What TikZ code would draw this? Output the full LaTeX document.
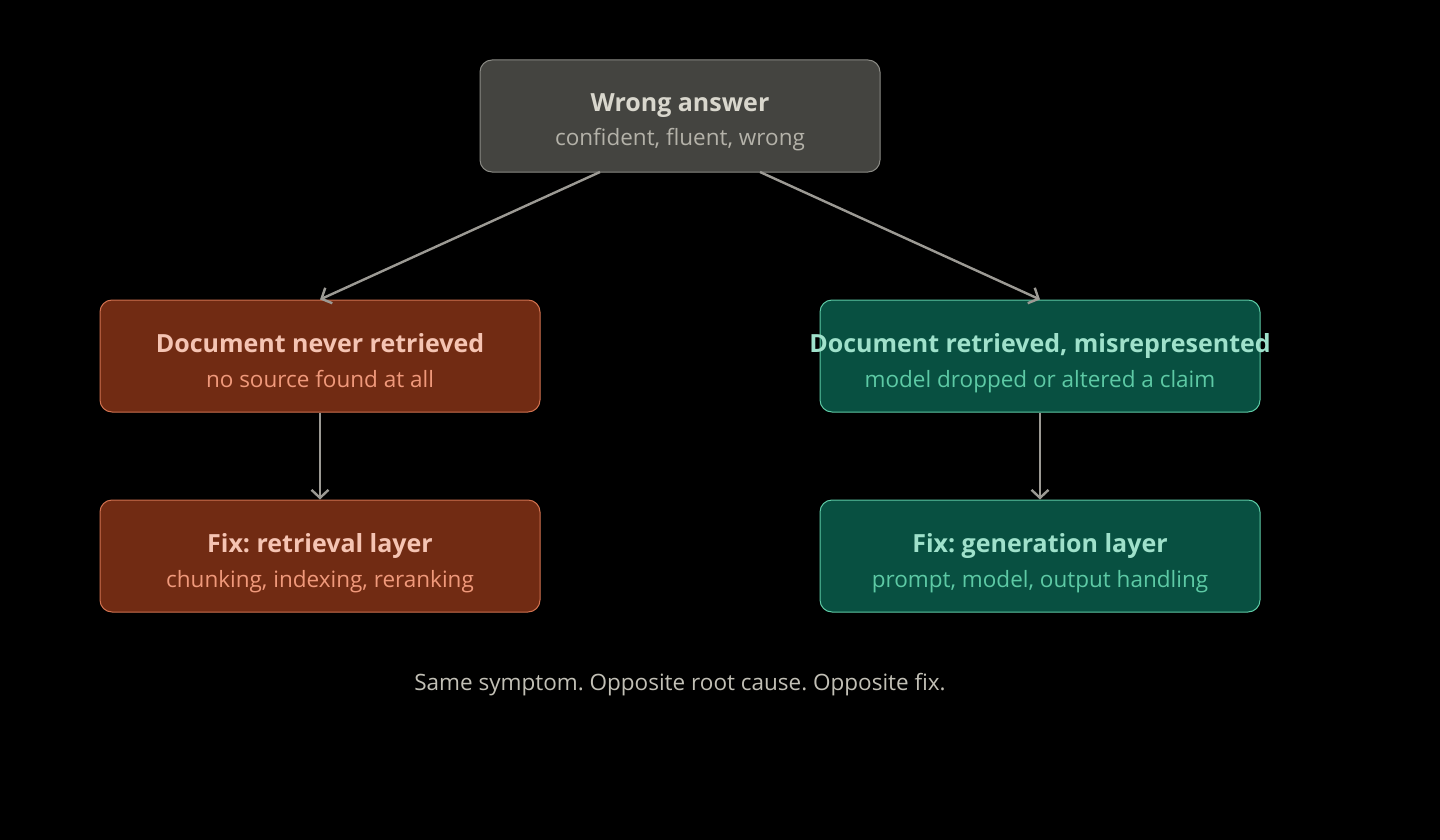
\documentclass[tikz,border=0pt]{standalone}
\usepackage{fontspec}
\setmainfont{Open Sans}
\usetikzlibrary{arrows.meta}
\definecolor{bg}{HTML}{000000}
\definecolor{gfill}{HTML}{444440}
\definecolor{gline}{HTML}{8A8A84}
\definecolor{gtitle}{HTML}{D9D7CD}
\definecolor{gsub}{HTML}{B4B2A9}
\definecolor{rfill}{HTML}{712B13}
\definecolor{rline}{HTML}{D0714F}
\definecolor{rtitle}{HTML}{F5C4B3}
\definecolor{rsub}{HTML}{F0997B}
\definecolor{tfill}{HTML}{085041}
\definecolor{tline}{HTML}{5DCAA5}
\definecolor{ttitle}{HTML}{9FE1CB}
\definecolor{tsub}{HTML}{5DCAA5}
\definecolor{arr}{HTML}{9C9A94}
\definecolor{foot}{HTML}{C2C0B6}
\tikzset{
  box/.style={draw, line width=1pt, rounded corners=12pt, minimum height=112pt, inner sep=0pt},
  ttl/.style={font=\fontsize{25}{30}\selectfont\bfseries, inner sep=0pt, anchor=base},
  sbt/.style={font=\fontsize{22.5}{27}\selectfont, inner sep=0pt, anchor=base},
  conn/.style={draw=arr, line width=2.4pt, -{Straight Barb[length=8pt,width=17pt,line width=2.4pt]}}
}
\begin{document}
\frenchspacing
\begin{tikzpicture}[x=1pt,y=-1pt]
\fill[bg] (0,0) rectangle (1440,840);
\useasboundingbox (0,0) rectangle (1440,840);
% boxes
\node[box, fill=gfill, draw=gline, minimum width=400pt] (top) at (680,116) {};
\node[box, fill=rfill, draw=rline, minimum width=440pt] (lmid) at (320,356) {};
\node[box, fill=tfill, draw=tline, minimum width=440pt] (rmid) at (1040,356) {};
\node[box, fill=rfill, draw=rline, minimum width=440pt] (lbot) at (320,556) {};
\node[box, fill=tfill, draw=tline, minimum width=440pt] (rbot) at (1040,556) {};
% texts
\node[ttl, text=gtitle] (topt) at (680,112) {Wrong answer};
\node[sbt, text=gsub] (tops) at (680,146) {confident, fluent, wrong};
\node[ttl, text=rtitle] (lmidt) at (320,352) {Document never retrieved};
\node[sbt, text=rsub] (lmids) at (320,387) {no source found at all};
\node[ttl, text=ttitle] (rmidt) at (1040,352) {Document retrieved, misrepresented};
\node[sbt, text=tsub] (rmids) at (1040,387) {model dropped or altered a claim};
\node[ttl, text=rtitle] (lbott) at (320,552) {Fix: retrieval layer};
\node[sbt, text=rsub] (lbots) at (320,587) {chunking, indexing, reranking};
\node[ttl, text=ttitle] (rbott) at (1040,552) {Fix: generation layer};
\node[sbt, text=tsub] (rbots) at (1040,587) {prompt, model, output handling};
\node[sbt, text=foot] (foot) at (680,690) {Same symptom. Opposite root cause. Opposite fix.};
% connectors
\coordinate (a1) at (600,172);
\coordinate (a2) at (760,172);
\draw[conn] (a1) -- (lmid.north);
\draw[conn] (a2) -- (rmid.north);
\draw[conn] (lmid.south) -- (lbot.north);
\draw[conn] (rmid.south) -- (rbot.north);
\end{tikzpicture}
\end{document}
